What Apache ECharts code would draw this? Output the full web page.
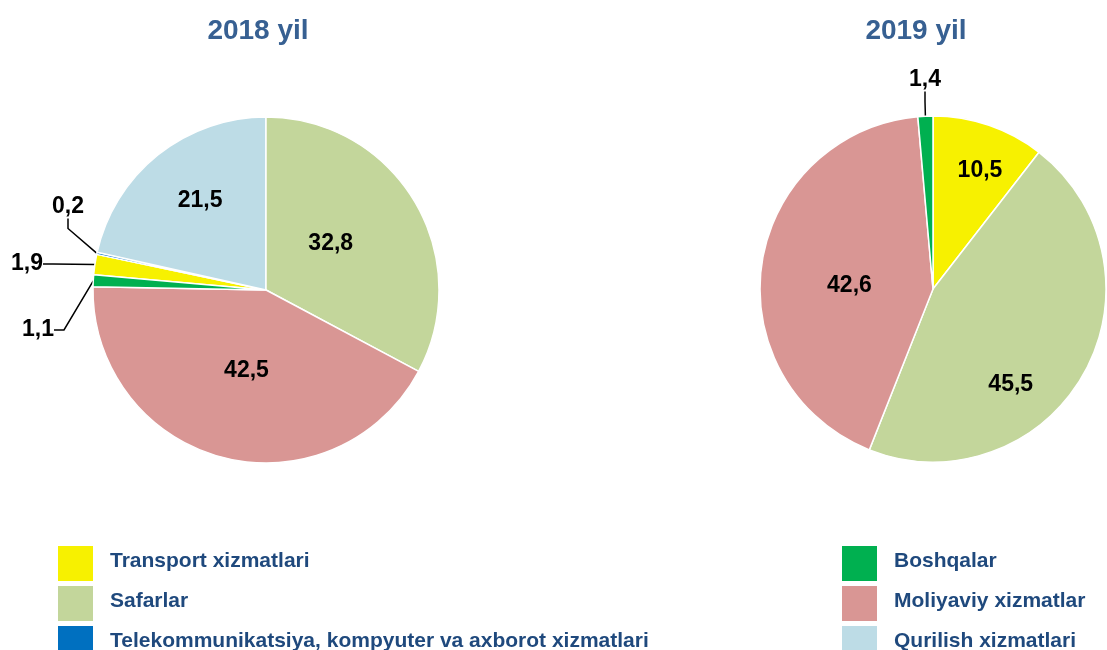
<!DOCTYPE html>
<html>
<head>
<meta charset="utf-8">
<script src="https://cdn.jsdelivr.net/npm/echarts@6/dist/echarts.min.js"></script>
<style>
  html, body { margin: 0; padding: 0; background: #fff; }
  #chart { width: 1107px; height: 650px; }
</style>
</head>
<body>
<div id="chart"></div>
<script>
// categories in the order the slices run clockwise
const categories = [
    "Transport xizmatlari",
    "Telekommunikatsiya, kompyuter va axborot xizmatlari",
    "Qurilish xizmatlari",
    "Safarlar",
    "Moliyaviy xizmatlar",
    "Boshqalar"
];
const years = ["2018 yil", "2019 yil"];
const values2018 = [1.9, 0.2, 21.5, 32.8, 42.5, 1.1];
const values2019 = [10.5, 0, 0, 45.5, 42.6, 1.4];

const legendLeft = ["Transport xizmatlari", "Safarlar", "Telekommunikatsiya, kompyuter va axborot xizmatlari"];
const legendRight = ["Boshqalar", "Moliyaviy xizmatlar", "Qurilish xizmatlari"];

const colors = {
    "Transport xizmatlari": "#F7F100",
    "Telekommunikatsiya, kompyuter va axborot xizmatlari": "#0070C0",
    "Qurilish xizmatlari": "#BDDCE6",
    "Safarlar": "#C3D69B",
    "Moliyaviy xizmatlar": "#D99694",
    "Boshqalar": "#00B050"
};

// nudges for the labels inside the slices, [dx, dy] from the default spot
const insideNudge = [
    { "Safarlar": [-12, 0], "Moliyaviy xizmatlar": [3, -6], "Qurilish xizmatlari": [-10, -19] },
    { "Transport xizmatlari": [18, -34], "Moliyaviy xizmatlar": [5, 10], "Safarlar": [0, 51] }
];
// where the small outside labels sit (label centre), the leader line follows
const outsideSpot = [
    {
        "Telekommunikatsiya, kompyuter va axborot xizmatlari": [68, 207],
        "Transport xizmatlari": [27, 264],
        "Boshqalar": [38, 330]
    },
    { "Boshqalar": [925, 80] }
];

const font = "Liberation Sans, Arial, sans-serif";

const chart = echarts.init(document.getElementById("chart"), null, { renderer: "canvas" });

const fmt = (v) => v.toFixed(1).replace(".", ",");

const buildData = (values) =>
    values
        .map((v, i) => ({ name: categories[i], value: v }))
        .filter((d) => d.value > 0)
        .map((d) => {
            const small = d.value < 5;
            return {
                name: d.name,
                value: d.value,
                itemStyle: { color: colors[d.name] },
                label: small ? { position: "outside" } : { position: "inside" },
                labelLine: { show: small }
            };
        });

const layoutFor = (k, data) => (params) => {
    const name = data[params.dataIndex].name;
    const spot = outsideSpot[k][name];
    if (spot) {
        return { x: spot[0], y: spot[1], align: "center", verticalAlign: "middle" };
    }
    const n = insideNudge[k][name] || [0, 0];
    return { dx: n[0], dy: n[1] };
};

// left pie starts with Safarlar at 12 o'clock
const sum2018 = values2018.reduce((a, b) => a + b, 0);
const startLeft = 90 + (360 * (values2018[0] + values2018[1] + values2018[2])) / sum2018;

const data2018 = buildData(values2018);
const data2019 = buildData(values2019);

const pieBase = {
    type: "pie",
    radius: 173,
    clockwise: true,
    avoidLabelOverlap: false,
    itemStyle: { borderColor: "#fff", borderWidth: 1.5 },
    label: {
        formatter: (p) => fmt(p.value),
        color: "#000",
        fontFamily: font,
        fontWeight: "bold",
        fontSize: 23
    },
    labelLine: {
        length: 18,
        length2: 10,
        lineStyle: { color: "#000", width: 1.5 }
    },
    emphasis: { scale: false }
};

const legendBase = {
    orient: "vertical",
    top: 546,
    height: 140,
    padding: 0,
    icon: "rect",
    itemWidth: 35,
    itemHeight: 35,
    itemGap: 5,
    selectedMode: false,
    itemStyle: { borderWidth: 0 },
    textStyle: {
        color: "#1F497D",
        fontFamily: font,
        fontWeight: "bold",
        fontSize: 21,
        rich: { t: { padding: [0, 0, 5, 12], fontSize: 21, fontWeight: "bold", fontFamily: font, color: "#1F497D" } }
    },
    formatter: (name) => "{t|" + name + "}"
};

const titleStyle = { color: "#376092", fontFamily: font, fontWeight: "bold", fontSize: 28 };

const option = {
    backgroundColor: "#fff",
    title: [
        { text: years[0], left: 258, top: 17, padding: 0, textAlign: "center", textStyle: titleStyle },
        { text: years[1], left: 916, top: 17, padding: 0, textAlign: "center", textStyle: titleStyle }
    ],
    legend: [
        Object.assign({}, legendBase, { left: 58, data: legendLeft }),
        Object.assign({}, legendBase, { left: 842, data: legendRight })
    ],
    series: [
        Object.assign({}, pieBase, {
            name: years[0],
            center: [266, 290],
            startAngle: startLeft,
            data: data2018,
            labelLayout: layoutFor(0, data2018)
        }),
        Object.assign({}, pieBase, {
            name: years[1],
            center: [933, 289],
            startAngle: 90,
            data: data2019,
            labelLayout: layoutFor(1, data2019)
        })
    ]
};

chart.setOption(option);
window.addEventListener("resize", chart.resize);
</script>
</body>
</html>
